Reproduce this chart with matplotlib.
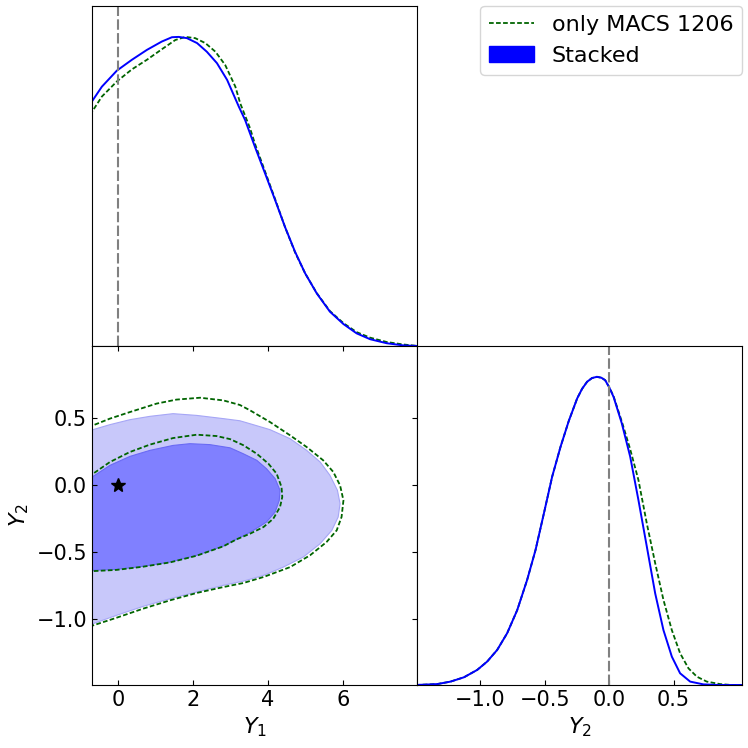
import matplotlib
matplotlib.use("Agg")
import matplotlib.pyplot as plt
from matplotlib.lines import Line2D
from matplotlib.patches import Patch

# ---- data ----
y1_grid_blue = [-0.75, -0.693, -0.427, -0.027, 0.373, 0.773, 1.17, 1.44, 1.62, 1.84, 2.11, 2.37,
                2.64, 2.91, 3.22, 3.39, 3.65, 3.92, 4.19, 4.45, 4.72, 4.99, 5.3, 5.65, 6.01,
                6.36, 6.72, 7.16, 7.6, 8.0]
y1_pdf_blue = [0.78, 0.791, 0.839, 0.891, 0.926, 0.958, 0.985, 0.999, 1.0, 0.996, 0.98, 0.952,
               0.915, 0.861, 0.775, 0.731, 0.645, 0.559, 0.472, 0.386, 0.305, 0.235, 0.17, 0.111,
               0.071, 0.041, 0.022, 0.009, 0.002, 0.0]
y1_grid_green = [-0.75, -0.693, -0.427, -0.027, 0.373, 0.773, 1.17, 1.53, 1.8, 2.06, 2.33, 2.6,
                 2.86, 3.13, 3.26, 3.52, 3.65, 3.92, 4.19, 4.45, 4.72, 4.99, 5.3, 5.65, 6.01,
                 6.36, 6.72, 7.16, 7.6, 8.0]
y1_pdf_green = [0.748, 0.757, 0.807, 0.856, 0.895, 0.926, 0.96, 0.99, 1.0, 0.996, 0.98, 0.952,
                0.909, 0.839, 0.785, 0.705, 0.655, 0.565, 0.475, 0.386, 0.303, 0.235, 0.171,
                0.113, 0.074, 0.045, 0.027, 0.013, 0.005, 0.0]

y2_grid_blue = [-1.5, -1.333, -1.23, -1.126, -1.023, -0.946, -0.868, -0.791, -0.713, -0.636,
                -0.571, -0.506, -0.442, -0.377, -0.313, -0.248, -0.21, -0.171, -0.133, -0.095,
                -0.06, -0.031, 0.0, 0.034, 0.098, 0.163, 0.227, 0.292, 0.357, 0.421, 0.486,
                0.55, 0.628, 0.731, 0.85, 1.05]
y2_pdf_blue = [0.0, 0.003, 0.011, 0.025, 0.049, 0.076, 0.114, 0.168, 0.243, 0.341,
               0.438, 0.557, 0.676, 0.773, 0.857, 0.93, 0.961, 0.984, 0.996, 1.0,
               0.997, 0.989, 0.966, 0.935, 0.849, 0.741, 0.60, 0.449, 0.297, 0.178, 0.092,
               0.038, 0.011, 0.002, 0.0, 0.0]
y2_grid_green = [-1.5, -1.333, -1.23, -1.126, -1.023, -0.946, -0.868, -0.791, -0.713, -0.636,
                 -0.571, -0.506, -0.442, -0.377, -0.313, -0.248, -0.21, -0.171, -0.133, -0.095,
                 -0.06, -0.031, 0.0, 0.034, 0.098, 0.163, 0.227, 0.292, 0.357, 0.421, 0.486,
                 0.55, 0.615, 0.68, 0.757, 0.86, 0.95, 1.05]
y2_pdf_green = [0.0, 0.003, 0.011, 0.025, 0.049, 0.076, 0.114, 0.168, 0.243, 0.341,
                0.438, 0.557, 0.676, 0.773, 0.857, 0.93, 0.961, 0.984, 0.996, 1.0,
                0.997, 0.989, 0.967, 0.937, 0.855, 0.765, 0.665, 0.524, 0.395, 0.276, 0.178,
                0.103, 0.054, 0.027, 0.011, 0.003, 0.0, 0.0]

# 2D contours (Y1, Y2)
outer_blue_x = [-0.8, -0.66, -0.213, 0.32, 0.853, 1.47, 2.1, 2.81, 3.25, 3.52, 4.05, 4.59,
                5.03, 5.39, 5.65, 5.85, 5.92, 5.87, 5.7, 5.39, 4.94, 4.41, 3.88, 3.34, 2.81,
                2.1, 1.39, 0.675, -0.035, -0.66, -0.8]
outer_blue_y = [0.41, 0.416, 0.453, 0.49, 0.515, 0.535, 0.522, 0.498, 0.482, 0.46, 0.416, 0.348,
                0.261, 0.174, 0.075, -0.037, -0.137, -0.236, -0.336, -0.435, -0.535, -0.61,
                -0.672, -0.715, -0.746, -0.796, -0.846, -0.903, -0.97, -1.032, -1.045]
inner_blue_x = [-0.8, -0.66, -0.213, 0.32, 0.853, 1.47, 1.92, 2.45, 2.99, 3.34, 3.7, 3.96,
                4.19, 4.32, 4.3, 4.19, 3.96, 3.61, 3.25, 2.81, 2.1, 1.39, 0.675, -0.035,
                -0.66, -0.8]
inner_blue_y = [0.05, 0.067, 0.149, 0.216, 0.261, 0.298, 0.311, 0.304, 0.28, 0.236, 0.187,
                0.124, 0.05, -0.037, -0.112, -0.199, -0.274, -0.336, -0.39, -0.453, -0.522,
                -0.572, -0.604, -0.627, -0.634, -0.634]
outer_green_x = [-0.8, -0.66, -0.213, 0.32, 1.03, 1.56, 2.19, 2.81, 3.25, 3.52, 4.05, 4.59,
                 5.03, 5.47, 5.74, 5.92, 6.01, 5.96, 5.83, 5.56, 5.12, 4.59, 3.88, 3.34, 2.81,
                 2.1, 1.39, 0.675, -0.035, -0.66, -0.8]
outer_green_y = [0.437, 0.448, 0.498, 0.547, 0.61, 0.64, 0.654, 0.634, 0.6, 0.56, 0.473,
                 0.373, 0.286, 0.187, 0.1, 0.0, -0.112, -0.236, -0.336, -0.423, -0.522, -0.61,
                 -0.684, -0.729, -0.759, -0.803, -0.858, -0.92, -0.988, -1.045, -1.058]
inner_green_x = [-0.8, -0.66, -0.213, 0.32, 0.853, 1.47, 2.1, 2.63, 2.99, 3.34, 3.7, 4.01,
                 4.23, 4.36, 4.38, 4.32, 4.14, 3.88, 3.52, 3.16, 2.81, 2.1, 1.39, 0.675,
                 -0.035, -0.66, -0.8]
inner_green_y = [0.07, 0.087, 0.174, 0.249, 0.304, 0.353, 0.378, 0.368, 0.345, 0.3, 0.236,
                 0.162, 0.087, -0.012, -0.087, -0.162, -0.249, -0.311, -0.361, -0.403,
                 -0.455, -0.525, -0.575, -0.607, -0.631, -0.64, -0.64]

truth_y1 = [0.0]
truth_y2 = [0.0]

labels = ["only MACS 1206", "Stacked"]

# ---- figure ----
plt.rcParams['font.family'] = ['DejaVu Sans']
fig = plt.figure(figsize=(7.48, 7.48), dpi=100)

L = 92 / 748
W = 325 / 748
B_top = (748 - 346) / 748
H_top = 340 / 748
B_low = (748 - 685) / 748
H_low = 339 / 748

ax_top = fig.add_axes([L, B_top, W, H_top])
ax_2d = fig.add_axes([L, B_low, W, H_low])
ax_rt = fig.add_axes([L + W, B_low, W, H_low])

blue = '#0000ff'
green = '#006400'
blw = 1.4
glw = 1.3
gdash = (2.6, 1.3)
vdash = (5, 1.6)

xlim1 = (-0.69, 7.97)
xlim2 = (-1.49, 1.03)

# top-left 1D
ax_top.plot(y1_grid_green, y1_pdf_green, color=green, ls='--', dashes=gdash, lw=glw)
ax_top.plot(y1_grid_blue, y1_pdf_blue, color=blue, ls='-', lw=blw)
ax_top.axvline(0, color='gray', ls='--', dashes=vdash, lw=1.5)
ax_top.set_xlim(*xlim1)
ax_top.set_ylim(0, 1.1)
ax_top.set_xticks([])
ax_top.set_yticks([])

# 2D
ax_2d.fill(outer_blue_x, outer_blue_y, color='#c8c8fa', ec='#a6a6f6', lw=0.8)
ax_2d.fill(inner_blue_x, inner_blue_y, color='#8080ff', ec='#6a6af4', lw=0.8)
ax_2d.plot(outer_green_x, outer_green_y, color=green, ls='--', dashes=gdash, lw=glw)
ax_2d.plot(inner_green_x, inner_green_y, color=green, ls='--', dashes=gdash, lw=glw)
ax_2d.plot(truth_y1, truth_y2, marker='*', color='k', ms=10, ls='none')
ax_2d.set_xlim(*xlim1)
ax_2d.set_ylim(-1.49, 1.04)
ax_2d.set_xticks([0, 2, 4, 6])
ax_2d.set_yticks([-1.0, -0.5, 0.0, 0.5])
ax_2d.set_yticklabels(['\u22121.0', '\u22120.5', '0.0', '0.5'])
ax_2d.tick_params(direction='in', top=True, right=True, labelsize=15, length=3.5)
ax_2d.set_xlabel('$Y_1$', fontsize=16)
ax_2d.set_ylabel('$Y_2$', fontsize=16)

# bottom-right 1D
ax_rt.plot(y2_grid_green, y2_pdf_green, color=green, ls='--', dashes=gdash, lw=glw)
ax_rt.plot(y2_grid_blue, y2_pdf_blue, color=blue, ls='-', lw=blw)
ax_rt.axvline(0, color='gray', ls='--', dashes=vdash, lw=1.5)
ax_rt.set_xlim(*xlim2)
ax_rt.set_ylim(0, 1.1)
ax_rt.set_xticks([-1.0, -0.5, 0.0, 0.5])
ax_rt.set_xticklabels(['\u22121.0', '\u22120.5', '0.0', '0.5'])
ax_rt.set_yticks([])
ax_rt.tick_params(direction='in', labelsize=15, length=3.5)
ax_rt.set_xlabel('$Y_2$', fontsize=16)

handles = [Line2D([0], [0], color=green, ls='--', dashes=gdash, lw=glw),
           Patch(facecolor=blue, edgecolor=blue)]
fig.legend(handles, labels, loc='upper right', bbox_to_anchor=(0.992, 0.992),
           borderaxespad=0, fontsize=16, frameon=True)

fig.savefig('out.png', dpi=100)
